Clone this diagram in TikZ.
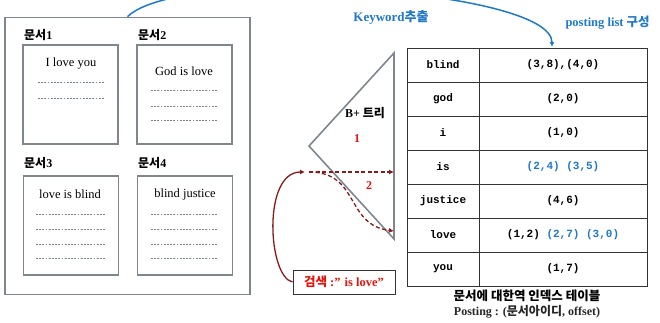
\documentclass[tikz,border=0pt]{standalone}
\usepackage{fontspec}
\setmainfont{Liberation Serif}
\setmonofont{Liberation Mono}
\newfontfamily\kr{Noto Sans CJK KR}
\usetikzlibrary{arrows.meta, positioning, calc}
\definecolor{boxgray}{HTML}{7F868E}
\definecolor{idxblue}{HTML}{1F78C8}
\definecolor{qred}{HTML}{8B1A1A}
\definecolor{numred}{HTML}{E3140C}
\definecolor{dotgray}{HTML}{7A8290}

\begin{document}
\begin{tikzpicture}[x=1pt, y=-1pt,
    outerbox/.style={draw=boxgray, line width=1.6pt, minimum width=245pt, minimum height=277pt},
    docbox/.style={draw=boxgray, line width=1.6pt, minimum width=95pt, minimum height=99pt},
    doclbl/.style={font=\fontsize{12}{14}\selectfont\bfseries, anchor=west, inner sep=0pt},
    doctxt/.style={font=\fontsize{12.5}{15}\selectfont, inner sep=0pt},
    dots/.style={dotgray, line width=1pt, dash pattern=on 1.8pt off 1.4pt},
    keycell/.style={draw=black!80, line width=1pt, minimum width=72pt, minimum height=34pt,
                    outer sep=0pt, inner sep=0pt, font=\fontsize{11}{13}\selectfont\ttfamily\bfseries},
    valcell/.style={keycell, minimum width=168pt},
    num/.style={font=\fontsize{12}{14}\selectfont\bfseries, text=numred},
    qarrow/.style={qred, line width=1.3pt, -{Latex[length=5pt, width=5pt]}},
    qdash/.style={qarrow, dash pattern=on 4pt off 2.5pt},
]
    \useasboundingbox (0,0) rectangle (660,322);

    % Documents
    \node[outerbox] (docs) at (127.5,156) {};
    \node[docbox] (doc1) at (70.5,94.5) {};
    \node[docbox] (doc2) at (184.5,94.5) {};
    \node[docbox] (doc3) at (71,225.5) {};
    \node[docbox] (doc4) at (185,225.5) {};
    \node[doclbl] (lbl1) at (24,35) {{\kr 문서}1};
    \node[doclbl] (lbl2) at (138,35) {{\kr 문서}2};
    \node[doclbl] (lbl3) at (24,163) {{\kr 문서}3};
    \node[doclbl] (lbl4) at (138,163) {{\kr 문서}4};
    \node[doctxt] (txt1) at (71,64) {I love you};
    \node[doctxt] (txt2) at (184,71) {God is love};
    \node[doctxt] (txt3) at (70,194) {love is blind};
    \node[doctxt] (txt4) at (185,194) {blind justice};
    \foreach \y in {82,98} \draw[dots] (38,\y) -- (104,\y);
    \foreach \y in {90,106,120} \draw[dots] (151,\y) -- (218,\y);
    \foreach \y in {214,229,244,258} {
        \draw[dots] (36,\y) -- (105,\y);
        \draw[dots] (151,\y) -- (218,\y);
    }

    % Inverted index table
    \node[keycell] (k1) at (443,65) {blind};
    \node[keycell, below=0pt of k1] (k2) {god};
    \node[keycell, below=0pt of k2] (k3) {i};
    \node[keycell, below=0pt of k3] (k4) {is};
    \node[keycell, below=0pt of k4] (k5) {justice};
    \node[keycell, below=0pt of k5] (k6) {love};
    \node[keycell, below=0pt of k6] (k7) {you};
    \node[valcell, right=0pt of k1] (v1) {(3,8),(4,0)};
    \node[valcell, right=0pt of k2] (v2) {(2,0)};
    \node[valcell, right=0pt of k3] (v3) {(1,0)};
    \node[valcell, right=0pt of k4] (v4) {\color{idxblue}(2,4) (3,5)};
    \node[valcell, right=0pt of k5] (v5) {(4,6)};
    \node[valcell, right=0pt of k6] (v6) {(1,2) \color{idxblue}(2,7) (3,0)};
    \node[valcell, right=0pt of k7] (v7) {(1,7)};
    \node[font=\fontsize{12.5}{14}\selectfont\kr\bfseries] (cap1) at (527,296) {문서에 대한역 인덱스 테이블};
    \node[font=\fontsize{12}{14}\selectfont\bfseries, text=black!85] (cap2) at (527,312) {Posting : ({\kr 문서아이디}, offset)};

    % Keyword extraction
    \node[font=\fontsize{13}{15}\selectfont\bfseries, text=idxblue] (kw) at (391,17) {Keyword{\kr 추출}};
    \node[font=\fontsize{12.5}{14}\selectfont\bfseries, text=idxblue, anchor=west] (pl) at (562,23) {posting list {\kr 구성}};
    \coordinate (listin) at (552,47);
    \draw[idxblue, line width=1.5pt, -{Latex[length=5pt, width=5pt]}]
        (docs.north) .. controls (180,-35) and (552,-12) .. (listin);

    % B+ tree
    \coordinate (tritop) at (394,53);
    \coordinate (tritip) at (309,146);
    \coordinate (tribot) at (394,239);
    \draw[boxgray, line width=1.6pt] (tritop) -- (tritip) -- (tribot) -- cycle;
    \node[font=\fontsize{12}{14}\selectfont\bfseries] (bt) at (365,113) {B+ {\kr 트리}};
    \node[num] (n1) at (357,139) {1};
    \node[num] (n2) at (369,186) {2};

    % Search
    \node[draw=black!80, line width=1pt, minimum width=102pt, minimum height=24pt, inner sep=0pt,
          font=\fontsize{12.5}{14}\selectfont\bfseries, text=numred] (query) at (344,282) {{\kr 검색} :” is love”};
    \coordinate (qin) at (305,172);
    \coordinate (srch) at (309,172);
    \coordinate (hitis) at (394,172);
    \coordinate (hitlove) at (394,231);
    \draw[qarrow] (query.west) .. controls (268,277) and (262,172) .. (qin);
    \draw[qdash] (srch) -- (hitis);
    \draw[qdash] (srch) .. controls (360,172) and (345,225) .. (hitlove);
\end{tikzpicture}
\end{document}
